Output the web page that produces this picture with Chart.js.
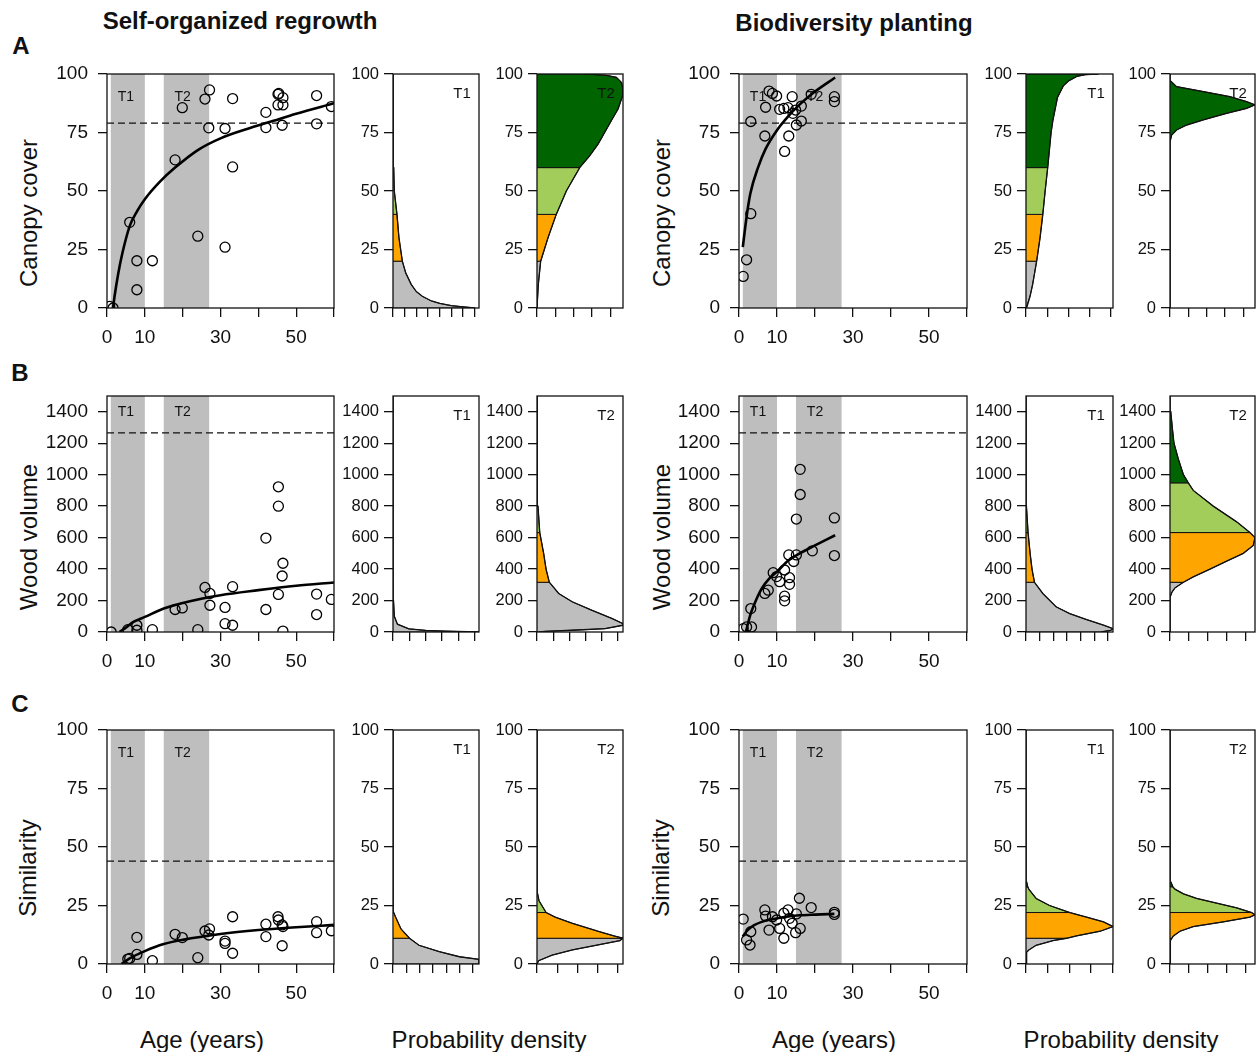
<!DOCTYPE html>
<html>
<head>
<meta charset="utf-8">
<script src="https://cdn.jsdelivr.net/npm/chart.js@4.4.1/dist/chart.umd.min.js"></script>
<style>
  body { margin: 0; background: #fff; }
  #fig { position: relative; width: 1258px; height: 1052px; overflow: hidden;
         font-family: "Liberation Sans", Arial, Helvetica, sans-serif; color: #111; }
  #fig canvas { position: absolute; }
  .lbl { position: absolute; white-space: nowrap; line-height: 1; font-size: 24px;
         transform: translate(-50%, -50%); }
  .rot { transform: translate(-50%, -50%) rotate(-90deg); }
  .bold { font-weight: bold; }
</style>
</head>
<body>
<div id="fig">
  <div class="lbl bold" style="left:240px;top:21px">Self-organized regrowth</div>
  <div class="lbl bold" style="left:854px;top:23px">Biodiversity planting</div>
  <div class="lbl bold" style="left:21px;top:46px">A</div>
  <div class="lbl bold" style="left:20px;top:373px">B</div>
  <div class="lbl bold" style="left:20px;top:704px">C</div>

  <div class="lbl rot" style="left:29px;top:213px">Canopy cover</div>
  <div class="lbl rot" style="left:662px;top:213px">Canopy cover</div>
  <div class="lbl rot" style="left:29px;top:537px">Wood volume</div>
  <div class="lbl rot" style="left:662px;top:537px">Wood volume</div>
  <div class="lbl rot" style="left:28px;top:868px">Similarity</div>
  <div class="lbl rot" style="left:661px;top:868px">Similarity</div>

  <div class="lbl" style="left:202px;top:1040px">Age (years)</div>
  <div class="lbl" style="left:834px;top:1040px">Age (years)</div>
  <div class="lbl" style="left:489px;top:1040px">Probability density</div>
  <div class="lbl" style="left:1121px;top:1040px">Probability density</div>
</div>

<script>
const FONT = '"Liberation Sans", Arial, Helvetica, sans-serif';
const INK = '#111';
Chart.defaults.font.family = FONT;
Chart.defaults.color = INK;

// ---------- data ----------
const ageTicks = [0, 10, 20, 30, 40, 50, 60];
const ageTickLabels = ['0', '10', '', '30', '', '50', ''];
const windowT1 = [1, 10];
const windowT2 = [15, 27];

const canopyRef = 79;
const woodRef = 1265;
const simRef = 44;
const canopyBreaks = [20, 40, 60];
const woodBreaks = [316, 632, 948];
const simBreaks = [11, 22, 33];
const bandColors = ['#bebebe', '#ffa500', '#a2cd5a', '#006400'];

// self-organized regrowth: sites
const selfCanopyAge = [0.7, 1.6, 6.0, 7.9, 7.9, 12.0, 18.0, 19.9, 24.0, 25.9, 27.1, 26.9, 31.2, 31.2, 33.2, 33.2, 42.0, 42.0, 45.2, 45.4, 45.2, 46.5, 46.5, 46.3, 55.4, 55.4, 59.3];
const selfCanopy    = [0.7, 0, 36.6, 20.2, 7.8, 20.2, 63.3, 85.6, 30.7, 89.3, 93.2, 77.0, 76.7, 26.0, 89.5, 60.3, 83.6, 77.1, 91.3, 91.7, 86.8, 89.9, 86.8, 78.1, 90.8, 78.7, 86.1];
const selfCanopyFitAge = [1.6, 2, 3, 4, 6, 8, 10, 14, 18, 24, 30, 38, 44, 50, 60];
const selfCanopyFit    = [0, 5, 15, 23, 35, 41.5, 46.5, 54, 60, 67.5, 72.5, 77, 80, 83, 87.5];

const selfWoodAge = [1.1, 5.5, 7.9, 7.9, 12.0, 18.0, 19.9, 24.0, 25.9, 27.2, 27.2, 31.2, 31.2, 33.2, 33.2, 42.0, 42.0, 45.3, 45.3, 45.3, 46.5, 46.3, 46.5, 55.4, 55.4, 59.3];
const selfWood    = [0, 15, 43, 11, 15, 143, 153, 15, 283, 245, 170, 156, 53, 288, 43, 597, 143, 923, 800, 239, 437, 356, 6, 241, 111, 207];
const selfWoodFitAge = [3.3, 5, 7, 10, 15, 20, 30, 40, 50, 60];
const selfWoodFit    = [0, 28, 64, 96, 149, 185, 234, 266, 294, 315];

const selfSimAge = [5.5, 6.0, 7.9, 7.9, 12.0, 18.0, 19.9, 24.0, 25.9, 27.1, 26.9, 31.2, 31.2, 33.2, 33.2, 42.0, 42.0, 45.2, 45.3, 46.3, 46.5, 46.3, 55.4, 55.4, 59.3];
const selfSim    = [2.1, 2.4, 4.1, 11.4, 1.4, 12.7, 11.3, 2.7, 14.1, 15.0, 12.4, 9.8, 8.8, 20.2, 4.6, 17.0, 11.7, 20.2, 18.8, 16.7, 16.0, 7.8, 18.1, 13.4, 14.2];
const selfSimFitAge = [3.8, 6, 10, 15, 20, 30, 40, 50, 60];
const selfSimFit    = [0, 2.4, 5.5, 8.5, 10.3, 12.8, 14.5, 15.7, 16.7];

// biodiversity planting: sites
const bioCanopyAge = [1.1, 2.0, 3.1, 3.1, 6.8, 7.0, 7.9, 8.8, 9.9, 10.7, 11.8, 12.9, 12.0, 13.1, 14.0, 14.2, 15.1, 16.4, 16.4, 14.9, 19.0, 25.1, 25.1];
const bioCanopy    = [13.5, 20.6, 40.3, 79.7, 73.5, 85.8, 92.7, 91.7, 90.6, 84.9, 85.3, 85.6, 66.9, 73.5, 90.3, 83.2, 78.2, 79.9, 86.3, 84.6, 91.3, 90.3, 88.2];
const bioCanopyFitAge = [1, 2, 3, 5, 7, 10, 13, 16, 20, 25.3];
const bioCanopyFit    = [26, 39, 49, 60, 68, 76, 82, 87, 92.5, 98.5];

const bioWoodAge = [1.1, 2.0, 3.3, 3.1, 6.8, 7.7, 9.0, 9.9, 10.7, 12.0, 12.0, 12.0, 13.1, 13.3, 13.3, 14.4, 15.1, 15.1, 16.1, 16.1, 19.3, 25.1, 25.1];
const bioWood    = [21, 32, 32, 149, 245, 266, 377, 352, 320, 394, 228, 198, 490, 345, 303, 448, 490, 718, 874, 1034, 516, 725, 486];
const bioWoodFitAge = [1.8, 3, 4, 6, 8, 10, 13, 16, 20, 25.3];
const bioWoodFit    = [0, 110, 175, 277, 341, 384, 455, 500, 550, 615];

const bioSimAge = [1.1, 2.0, 2.9, 3.1, 6.8, 7.0, 7.9, 8.8, 9.9, 10.7, 11.8, 11.8, 12.9, 13.3, 14.0, 14.9, 15.1, 16.1, 15.9, 19.0, 25.1, 25.1];
const bioSim    = [19.2, 10.3, 8.1, 13.8, 23.1, 20.5, 14.5, 20.2, 18.8, 15.2, 11.0, 21.7, 23.1, 19.5, 17.4, 13.4, 21.4, 15.2, 28.1, 24.1, 22.1, 21.2];
const bioSimFitAge = [1, 2, 3, 4, 6, 8, 10, 13, 16, 20, 25.1];
const bioSimFit    = [11.7, 14, 15.5, 16.6, 18, 18.9, 19.5, 20.3, 20.8, 21.1, 21.4];

// predicted densities at T1 / T2 (level, density in tick units)
const selfCanopyT1Y = [100, 80, 70, 60, 50, 40, 30, 20, 15, 10, 7, 5, 3, 2, 1, 0.5, 0];
const selfCanopyT1D = [0, 0, 0.03, 0.06, 0.11, 0.34, 0.51, 0.8, 1.09, 1.57, 2.0, 2.51, 3.29, 4.0, 5.0, 6.0, 7.0];
const selfCanopyT2Y = [100, 99.8, 99.4, 98.6, 96.4, 93.5, 90.7, 88, 85, 80, 75, 70, 65, 60, 50, 40, 30, 20, 10, 0];
const selfCanopyT2D = [2.5, 3.05, 3.78, 4.33, 4.6, 4.69, 4.67, 4.55, 4.42, 4.05, 3.69, 3.33, 2.87, 2.33, 1.6, 1.05, 0.6, 0.2, 0.07, 0];
const bioCanopyT1Y = [100, 99.7, 99, 97, 95, 90, 80, 75, 60, 50, 40, 30, 20, 10, 5, 0];
const bioCanopyT1D = [3.4, 2.8, 2.39, 2.0, 1.76, 1.48, 1.26, 1.18, 1.02, 0.9, 0.79, 0.66, 0.5, 0.31, 0.19, 0.03];
const bioCanopyT2Y = [100, 97.2, 94.6, 92.5, 90.3, 88.2, 86.8, 85.3, 83.2, 80.4, 78.2, 76.1, 73.9, 71, 60, 40, 20, 0];
const bioCanopyT2D = [0, 0, 0.36, 1.82, 3.27, 4.18, 4.64, 4.18, 3.09, 1.82, 0.91, 0.36, 0.09, 0, 0, 0, 0, 0];

const selfWoodT1Y = [1500, 948, 632, 316, 200, 100, 50, 20, 10, 5, 0];
const selfWoodT1D = [0, 0, 0, 0.01, 0.03, 0.08, 0.27, 0.97, 2.0, 3.24, 5.26];
const selfWoodT2Y = [1500, 1100, 1000, 948, 800, 632, 500, 400, 316, 245, 192, 138, 85, 53, 43, 21, 11, 4, 0];
const selfWoodT2D = [0, 0, 0.02, 0.03, 0.06, 0.17, 0.41, 0.56, 0.76, 1.34, 2.17, 3.4, 4.65, 5.31, 5.31, 4.2, 2.17, 0.5, 0.1];
const bioWoodT1Y = [1500, 1000, 948, 800, 632, 500, 400, 316, 245, 160, 117, 79, 43, 21, 10, 0];
const bioWoodT1D = [0, 0, 0.01, 0.03, 0.15, 0.3, 0.44, 0.62, 1.23, 2.2, 3.2, 4.44, 5.68, 6.37, 6.2, 5.5];
const bioWoodT2Y = [1500, 1400, 1300, 1200, 1100, 1000, 948, 900, 800, 700, 632, 600, 550, 500, 450, 400, 350, 316, 280, 250, 220, 0];
const bioWoodT2D = [0, 0.04, 0.12, 0.21, 0.44, 0.71, 0.97, 1.23, 2.29, 3.53, 4.23, 4.5, 4.41, 3.88, 3.0, 2.12, 1.23, 0.71, 0.26, 0.09, 0, 0];

const selfSimT1Y = [100, 33, 26, 22, 20, 15, 11, 8, 5.3, 3.1, 2, 1, 0];
const selfSimT1D = [0, 0, 0, 0.05, 0.2, 0.6, 1.24, 1.95, 3.47, 4.99, 6.46, 6.46, 6.46];
const selfSimT2Y = [100, 35, 33, 30, 27, 22, 20, 17.4, 13.8, 12, 11, 10, 8.8, 6, 3.8, 1.4, 0];
const selfSimT2D = [0, 0, 0.01, 0.03, 0.1, 0.45, 0.9, 1.75, 3.08, 3.8, 4.25, 4.1, 3.4, 1.75, 0.75, 0.08, 0];
const bioSimT1Y = [100, 40, 35, 33, 32, 28, 25, 22, 20, 18, 16, 14, 12, 11, 10, 8, 6, 5, 0];
const bioSimT1D = [0, 0, 0.03, 0.08, 0.13, 0.47, 1.09, 2.03, 2.81, 3.59, 4.03, 3.44, 2.34, 1.88, 1.25, 0.47, 0.13, 0.03, 0];
const bioSimT2Y = [100, 40, 35, 33, 32, 30, 28, 26, 24, 22, 21, 20, 18, 16, 14, 12, 11, 10, 8, 0];
const bioSimT2D = [0, 0, 0.05, 0.15, 0.26, 0.71, 1.41, 2.47, 3.53, 4.32, 4.5, 4.23, 2.82, 1.23, 0.53, 0.18, 0.1, 0.04, 0, 0];

// ---------- layout ----------
const rowA = { t: 74, b: 308 }, rowB = { t: 396, b: 632 }, rowC = { t: 730, b: 964 };
const colSelf = { l: 107, r: 335 }, colSelfT1 = { l: 393, r: 479 }, colSelfT2 = { l: 537, r: 623 };
const colBio = { l: 739, r: 968 }, colBioT1 = { l: 1026, r: 1113 }, colBioT2 = { l: 1170, r: 1255 };
const box = (c, r) => ({ l: c.l, r: c.r, t: r.t, b: r.b });

const fig = document.getElementById('fig');

function makeCanvas(b, pad) {
  const c = document.createElement('canvas');
  const w = b.r - b.l + pad.l + pad.r;
  const h = b.b - b.t + pad.t + pad.b;
  c.width = w; c.height = h;
  c.style.left = (b.l - pad.l) + 'px';
  c.style.top = (b.t - pad.t) + 'px';
  c.style.width = w + 'px';
  c.style.height = h + 'px';
  fig.appendChild(c);
  return c;
}

// grey age windows, window names, corner label and the frame round the plot
function framePlugin(o) {
  return {
    id: 'frame',
    beforeDatasetsDraw(chart) {
      const { ctx, chartArea: a, scales } = chart;
      if (!o.windows) return;
      ctx.save();
      ctx.fillStyle = '#bebebe';
      o.windows.forEach(w => {
        const x0 = scales.x.getPixelForValue(w[0]);
        const x1 = scales.x.getPixelForValue(w[1]);
        ctx.fillRect(x0, a.top, x1 - x0, a.bottom - a.top);
      });
      ctx.fillStyle = INK;
      ctx.font = '14px ' + FONT;
      ctx.textAlign = 'center';
      ctx.textBaseline = 'middle';
      ['T1', 'T2'].forEach((n, i) => {
        ctx.fillText(n, scales.x.getPixelForValue(o.nameAt[i]), scales.y.getPixelForValue(o.nameY));
      });
      ctx.restore();
    },
    afterDatasetsDraw(chart) {
      const { ctx, chartArea: a } = chart;
      ctx.save();
      if (o.corner) {
        ctx.fillStyle = INK;
        ctx.font = '15px ' + FONT;
        ctx.textAlign = 'center';
        ctx.textBaseline = 'middle';
        ctx.fillText(o.corner, a.right - 17, a.top + 20);
      }
      ctx.strokeStyle = INK;
      ctx.lineWidth = 1.3;
      ctx.strokeRect(a.left, a.top, a.right - a.left, a.bottom - a.top);
      ctx.restore();
    }
  };
}

const tickGrid = len => ({ drawOnChartArea: false, drawTicks: true, tickLength: len, color: INK, lineWidth: 1.3 });
const plainNum = v => String(v);

function scatterPanel(b, s) {
  const pad = { l: 80, r: 8, t: 24, b: 46 };
  const canvas = makeCanvas(b, pad);
  const pts = s.age.map((a, i) => ({ x: a, y: s.val[i] }));
  const fit = s.fitAge.map((a, i) => ({ x: a, y: s.fit[i] }));
  new Chart(canvas, {
    type: 'scatter',
    data: {
      datasets: [
        { data: pts, pointRadius: 5, pointBorderWidth: 1.3, pointBorderColor: '#000',
          pointBackgroundColor: 'rgba(0,0,0,0)' },
        { type: 'line', data: fit, borderColor: '#000', borderWidth: 2.6, pointRadius: 0,
          tension: 0.4, cubicInterpolationMode: 'monotone', fill: false },
        { type: 'line', data: [{ x: 0, y: s.ref }, { x: 60, y: s.ref }], borderColor: INK,
          borderWidth: 1.3, borderDash: [7, 4], pointRadius: 0, fill: false }
      ]
    },
    options: {
      responsive: false, animation: false, events: [], devicePixelRatio: 1,
      layout: { padding: { top: pad.t, right: pad.r, left: 0, bottom: 0 } },
      plugins: { legend: { display: false }, tooltip: { enabled: false } },
      scales: {
        x: {
          type: 'linear', min: 0, max: 60,
          afterBuildTicks: sc => { sc.ticks = ageTicks.map(v => ({ value: v })); },
          ticks: { autoSkip: false, maxRotation: 0, font: { size: 19 }, padding: 9,
                   callback: (v, i) => ageTickLabels[i] },
          grid: tickGrid(9), border: { display: false },
          afterFit: sc => { sc.height = pad.b; }
        },
        y: {
          type: 'linear', min: 0, max: s.yMax,
          ticks: { stepSize: s.yStep, includeBounds: false, autoSkip: false, font: { size: 19 },
                   padding: 10, callback: plainNum },
          grid: tickGrid(9), border: { display: false },
          afterFit: sc => { sc.width = pad.l; }
        }
      }
    },
    plugins: [framePlugin({ windows: [windowT1, windowT2], nameAt: [5, 20], nameY: s.nameY })]
  });
}

function densityPanel(b, d) {
  const pad = { l: 56, r: 3, t: 20, b: 20 };
  const canvas = makeCanvas(b, pad);
  const pts = d.y.map((y, i) => ({ x: d.d[i], y })).sort((p, q) => p.y - q.y);
  const edges = [0, ...d.breaks, d.yMax];
  const bands = bandColors.map((col, i) => {
    const lo = edges[i], hi = edges[i + 1];
    const seg = pts.filter(p => p.y >= lo && p.y <= hi);
    return { type: 'line', data: [{ x: 0, y: lo }, ...seg, { x: 0, y: hi }], fill: 'shape',
             backgroundColor: col, borderColor: INK, borderWidth: 1, pointRadius: 0, tension: 0 };
  }).reverse();
  new Chart(canvas, {
    type: 'scatter',
    data: {
      datasets: [
        { type: 'line', data: pts, borderColor: INK, borderWidth: 1.3, pointRadius: 0, tension: 0, fill: false },
        ...bands
      ]
    },
    options: {
      responsive: false, animation: false, events: [], devicePixelRatio: 1,
      layout: { padding: { top: pad.t, right: pad.r, left: 0, bottom: 0 } },
      plugins: { legend: { display: false }, tooltip: { enabled: false } },
      scales: {
        x: {
          type: 'linear', min: 0, max: d.xMax,
          ticks: { display: false, stepSize: 1, includeBounds: false },
          grid: tickGrid(9), border: { display: false },
          afterFit: sc => { sc.height = pad.b; }
        },
        y: {
          type: 'linear', min: 0, max: d.yMax,
          ticks: { stepSize: d.yStep, includeBounds: false, autoSkip: false, font: { size: 16.5 },
                   padding: 5, callback: plainNum },
          grid: tickGrid(9), border: { display: false },
          afterFit: sc => { sc.width = pad.l; }
        }
      }
    },
    plugins: [framePlugin({ corner: d.name })]
  });
}

// ---------- row A: canopy cover ----------
const canopyAxis = { yMax: 100, yStep: 25 };
scatterPanel(box(colSelf, rowA), { ...canopyAxis, age: selfCanopyAge, val: selfCanopy,
  fitAge: selfCanopyFitAge, fit: selfCanopyFit, ref: canopyRef, nameY: 90 });
scatterPanel(box(colBio, rowA), { ...canopyAxis, age: bioCanopyAge, val: bioCanopy,
  fitAge: bioCanopyFitAge, fit: bioCanopyFit, ref: canopyRef, nameY: 90 });
densityPanel(box(colSelfT1, rowA), { ...canopyAxis, y: selfCanopyT1Y, d: selfCanopyT1D, xMax: 7.37, breaks: canopyBreaks, name: 'T1' });
densityPanel(box(colSelfT2, rowA), { ...canopyAxis, y: selfCanopyT2Y, d: selfCanopyT2D, xMax: 4.69, breaks: canopyBreaks, name: 'T2' });
densityPanel(box(colBioT1, rowA), { ...canopyAxis, y: bioCanopyT1Y, d: bioCanopyT1D, xMax: 4.09, breaks: canopyBreaks, name: 'T1' });
densityPanel(box(colBioT2, rowA), { ...canopyAxis, y: bioCanopyT2Y, d: bioCanopyT2D, xMax: 4.64, breaks: canopyBreaks, name: 'T2' });

// ---------- row B: wood volume ----------
const woodAxis = { yMax: 1500, yStep: 200 };
scatterPanel(box(colSelf, rowB), { ...woodAxis, age: selfWoodAge, val: selfWood,
  fitAge: selfWoodFitAge, fit: selfWoodFit, ref: woodRef, nameY: 1400 });
scatterPanel(box(colBio, rowB), { ...woodAxis, age: bioWoodAge, val: bioWood,
  fitAge: bioWoodFitAge, fit: bioWoodFit, ref: woodRef, nameY: 1400 });
densityPanel(box(colSelfT1, rowB), { ...woodAxis, y: selfWoodT1Y, d: selfWoodT1D, xMax: 5.26, breaks: woodBreaks, name: 'T1' });
densityPanel(box(colSelfT2, rowB), { ...woodAxis, y: selfWoodT2Y, d: selfWoodT2D, xMax: 5.31, breaks: woodBreaks, name: 'T2' });
densityPanel(box(colBioT1, rowB), { ...woodAxis, y: bioWoodT1Y, d: bioWoodT1D, xMax: 6.37, breaks: woodBreaks, name: 'T1' });
densityPanel(box(colBioT2, rowB), { ...woodAxis, y: bioWoodT2Y, d: bioWoodT2D, xMax: 4.5, breaks: woodBreaks, name: 'T2' });

// ---------- row C: similarity ----------
const simAxis = { yMax: 100, yStep: 25 };
scatterPanel(box(colSelf, rowC), { ...simAxis, age: selfSimAge, val: selfSim,
  fitAge: selfSimFitAge, fit: selfSimFit, ref: simRef, nameY: 90 });
scatterPanel(box(colBio, rowC), { ...simAxis, age: bioSimAge, val: bioSim,
  fitAge: bioSimFitAge, fit: bioSimFit, ref: simRef, nameY: 90 });
densityPanel(box(colSelfT1, rowC), { ...simAxis, y: selfSimT1Y, d: selfSimT1D, xMax: 6.46, breaks: simBreaks, name: 'T1' });
densityPanel(box(colSelfT2, rowC), { ...simAxis, y: selfSimT2Y, d: selfSimT2D, xMax: 4.25, breaks: simBreaks, name: 'T2' });
densityPanel(box(colBioT1, rowC), { ...simAxis, y: bioSimT1Y, d: bioSimT1D, xMax: 4.03, breaks: simBreaks, name: 'T1' });
densityPanel(box(colBioT2, rowC), { ...simAxis, y: bioSimT2Y, d: bioSimT2D, xMax: 4.5, breaks: simBreaks, name: 'T2' });
</script>
</body>
</html>
